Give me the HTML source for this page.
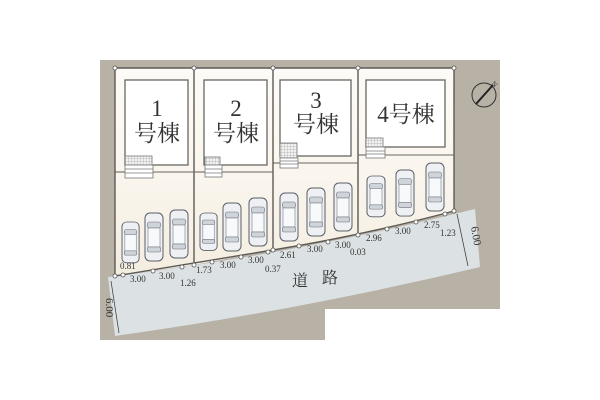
<!DOCTYPE html>
<html><head><meta charset="utf-8"><style>
html,body{margin:0;padding:0;background:#fff;width:600px;height:400px;overflow:hidden}
svg{display:block}
text{font-family:"Liberation Serif","Noto Serif CJK SC",serif;fill:#333}
</style></head><body>
<svg width="600" height="400" viewBox="0 0 600 400" xmlns="http://www.w3.org/2000/svg">
<defs>
<linearGradient id="lot" x1="0" y1="0" x2="0" y2="1">
<stop offset="0" stop-color="#fdfbf7"/><stop offset="0.5" stop-color="#faf6ee"/><stop offset="1" stop-color="#f4ede0"/></linearGradient>
<pattern id="grid" width="3" height="3" patternUnits="userSpaceOnUse">
<rect width="3" height="3" fill="#f2f2f2"/><path d="M3,0 V3 M0,3 H3" stroke="#888" stroke-width="0.5"/></pattern>
<g id="car">
<rect x="0" y="0" width="18" height="48" rx="5" fill="#eef0f3" stroke="#5a5e66" stroke-width="1"/>
<rect x="2.5" y="9" width="13" height="6" rx="2" fill="#cfd3da" stroke="#6a6e76" stroke-width="0.6"/>
<rect x="3" y="15" width="12" height="19" fill="#f8f9fb" stroke="#7a7e86" stroke-width="0.6"/>
<rect x="2.5" y="34" width="13" height="5" rx="1.5" fill="#cfd3da" stroke="#6a6e76" stroke-width="0.6"/>
</g>
</defs>
<rect x="100" y="60" width="400" height="280" fill="#b8b1a6"/>
<rect x="325" y="309" width="175" height="31" fill="#fff"/>
<polygon points="115,68 454,68 454,211 358,235 273,250 194,265 115,276" fill="url(#lot)"/>
<path d="M108,277 Q290,255 475,209 L480,267 Q300,310 115,336 Z" fill="#dce2e4"/>
<g stroke="#5d5a55" stroke-width="1.4" fill="none">
<line x1="115" y1="68" x2="454" y2="68"/>
<line x1="115" y1="68" x2="115" y2="276"/>
<line x1="194" y1="68" x2="194" y2="265"/>
<line x1="273" y1="68" x2="273" y2="250"/>
<line x1="358" y1="68" x2="358" y2="235"/>
<line x1="454" y1="68" x2="454" y2="211"/>
<path d="M115,276 Q200,262 273,250 Q360,236 454,211"/>
</g>
<g stroke="#6a6660" stroke-width="1.1">
<line x1="153" y1="172" x2="194" y2="172"/><line x1="115" y1="172" x2="125" y2="172"/>
<line x1="222" y1="172" x2="273" y2="172"/><line x1="194" y1="172" x2="205" y2="172"/>
<line x1="298" y1="163" x2="358" y2="163"/><line x1="273" y1="163" x2="280" y2="163"/>
<line x1="385" y1="155" x2="454" y2="155"/><line x1="358" y1="155" x2="366" y2="155"/>
</g>
<g fill="#fff" stroke="#6a6660" stroke-width="1.3">
<rect x="125" y="80" width="63" height="85"/>
<rect x="204" y="80" width="63" height="85"/>
<rect x="280" y="80" width="71" height="76"/>
<rect x="366" y="80" width="79" height="67"/>
</g>
<g fill="#fff" stroke="#777" stroke-width="0.8">
<rect x="125" y="156" width="27" height="9" fill="url(#grid)"/><rect x="125" y="165" width="28" height="13"/>
<line x1="125" y1="169" x2="153" y2="169"/><line x1="125" y1="173" x2="153" y2="173"/>
<rect x="205" y="157" width="15" height="8" fill="url(#grid)"/><rect x="205" y="165" width="17" height="12"/>
<line x1="205" y1="169" x2="222" y2="169"/><line x1="205" y1="173" x2="222" y2="173"/>
<rect x="280" y="143" width="17" height="15" fill="url(#grid)"/><rect x="280" y="158" width="18" height="10"/>
<line x1="280" y1="161" x2="298" y2="161"/><line x1="280" y1="164" x2="298" y2="164"/>
<rect x="366" y="138" width="17" height="9" fill="url(#grid)"/><rect x="366" y="147" width="19" height="11"/>
<line x1="366" y1="151" x2="385" y2="151"/><line x1="366" y1="154" x2="385" y2="154"/>
</g>
<g font-size="23" text-anchor="middle">
<text x="157" y="116">1</text><text x="157" y="141">号棟</text>
<text x="236" y="116">2</text><text x="236" y="141">号棟</text>
<text x="316" y="108">3</text><text x="316" y="132">号棟</text>
<text x="406" y="122">4号棟</text>
</g>
<use href="#car" transform="translate(122,222) scale(0.95,0.85)"/>
<use href="#car" x="145" y="213"/>
<use href="#car" x="170" y="210"/>
<use href="#car" transform="translate(200,213) scale(0.95,0.78)"/>
<use href="#car" x="223" y="203"/>
<use href="#car" x="249" y="198"/>
<use href="#car" x="280" y="193"/>
<use href="#car" x="307" y="188"/>
<use href="#car" x="334" y="183"/>
<use href="#car" transform="translate(367,176) scale(1,0.85)"/>
<use href="#car" transform="translate(396,170) scale(1,0.96)"/>
<use href="#car" x="426" y="163"/>
<g fill="#fff" stroke="#555" stroke-width="0.8">
<circle cx="115" cy="68" r="2"/><circle cx="194" cy="68" r="2"/><circle cx="273" cy="68" r="2"/><circle cx="358" cy="68" r="2"/><circle cx="454" cy="68" r="2"/>
<circle cx="115" cy="276" r="2"/><circle cx="123" cy="275" r="2"/><circle cx="153" cy="271" r="2"/><circle cx="182" cy="267" r="2"/><circle cx="194" cy="265" r="2"/>
<circle cx="212" cy="262" r="2"/><circle cx="241" cy="257" r="2"/><circle cx="268" cy="252" r="2"/><circle cx="273" cy="250" r="2"/>
<circle cx="299" cy="246" r="2"/><circle cx="328" cy="242" r="2"/><circle cx="358" cy="235" r="2"/>
<circle cx="387" cy="229" r="2"/><circle cx="416" cy="222" r="2"/><circle cx="445" cy="214" r="2"/><circle cx="454" cy="211" r="2"/>
</g>
<g font-size="9" fill="#444">
<text x="120" y="269">0.81</text><text x="130" y="282">3.00</text><text x="159" y="279">3.00</text><text x="180" y="286">1.26</text>
<text x="196" y="273">1.73</text><text x="220" y="268">3.00</text><text x="248" y="263">3.00</text><text x="265" y="272">0.37</text>
<text x="280" y="258">2.61</text><text x="307" y="252">3.00</text><text x="335" y="248">3.00</text><text x="350" y="255">0.03</text>
<text x="366" y="241">2.96</text><text x="395" y="234">3.00</text><text x="424" y="228">2.75</text><text x="440" y="236">1.23</text>
</g>
<text x="292" y="286" font-size="16">道</text><text x="322" y="283" font-size="16">路</text>
<g stroke="#444" stroke-width="0.8">
<line x1="111" y1="281" x2="119" y2="333"/>
<line x1="457" y1="214" x2="468" y2="266"/>
</g>
<text font-size="11" transform="translate(106,298) rotate(90)">6.00</text>
<text font-size="11" transform="translate(471,227) rotate(80)">6.00</text>
<circle cx="484" cy="95" r="12" fill="none" stroke="#333" stroke-width="1"/>
<line x1="476" y1="104" x2="493" y2="85" stroke="#222" stroke-width="2"/>
<text x="492" y="86" font-size="7" transform="rotate(45 494 84)">N</text>
</svg>
</body></html>
